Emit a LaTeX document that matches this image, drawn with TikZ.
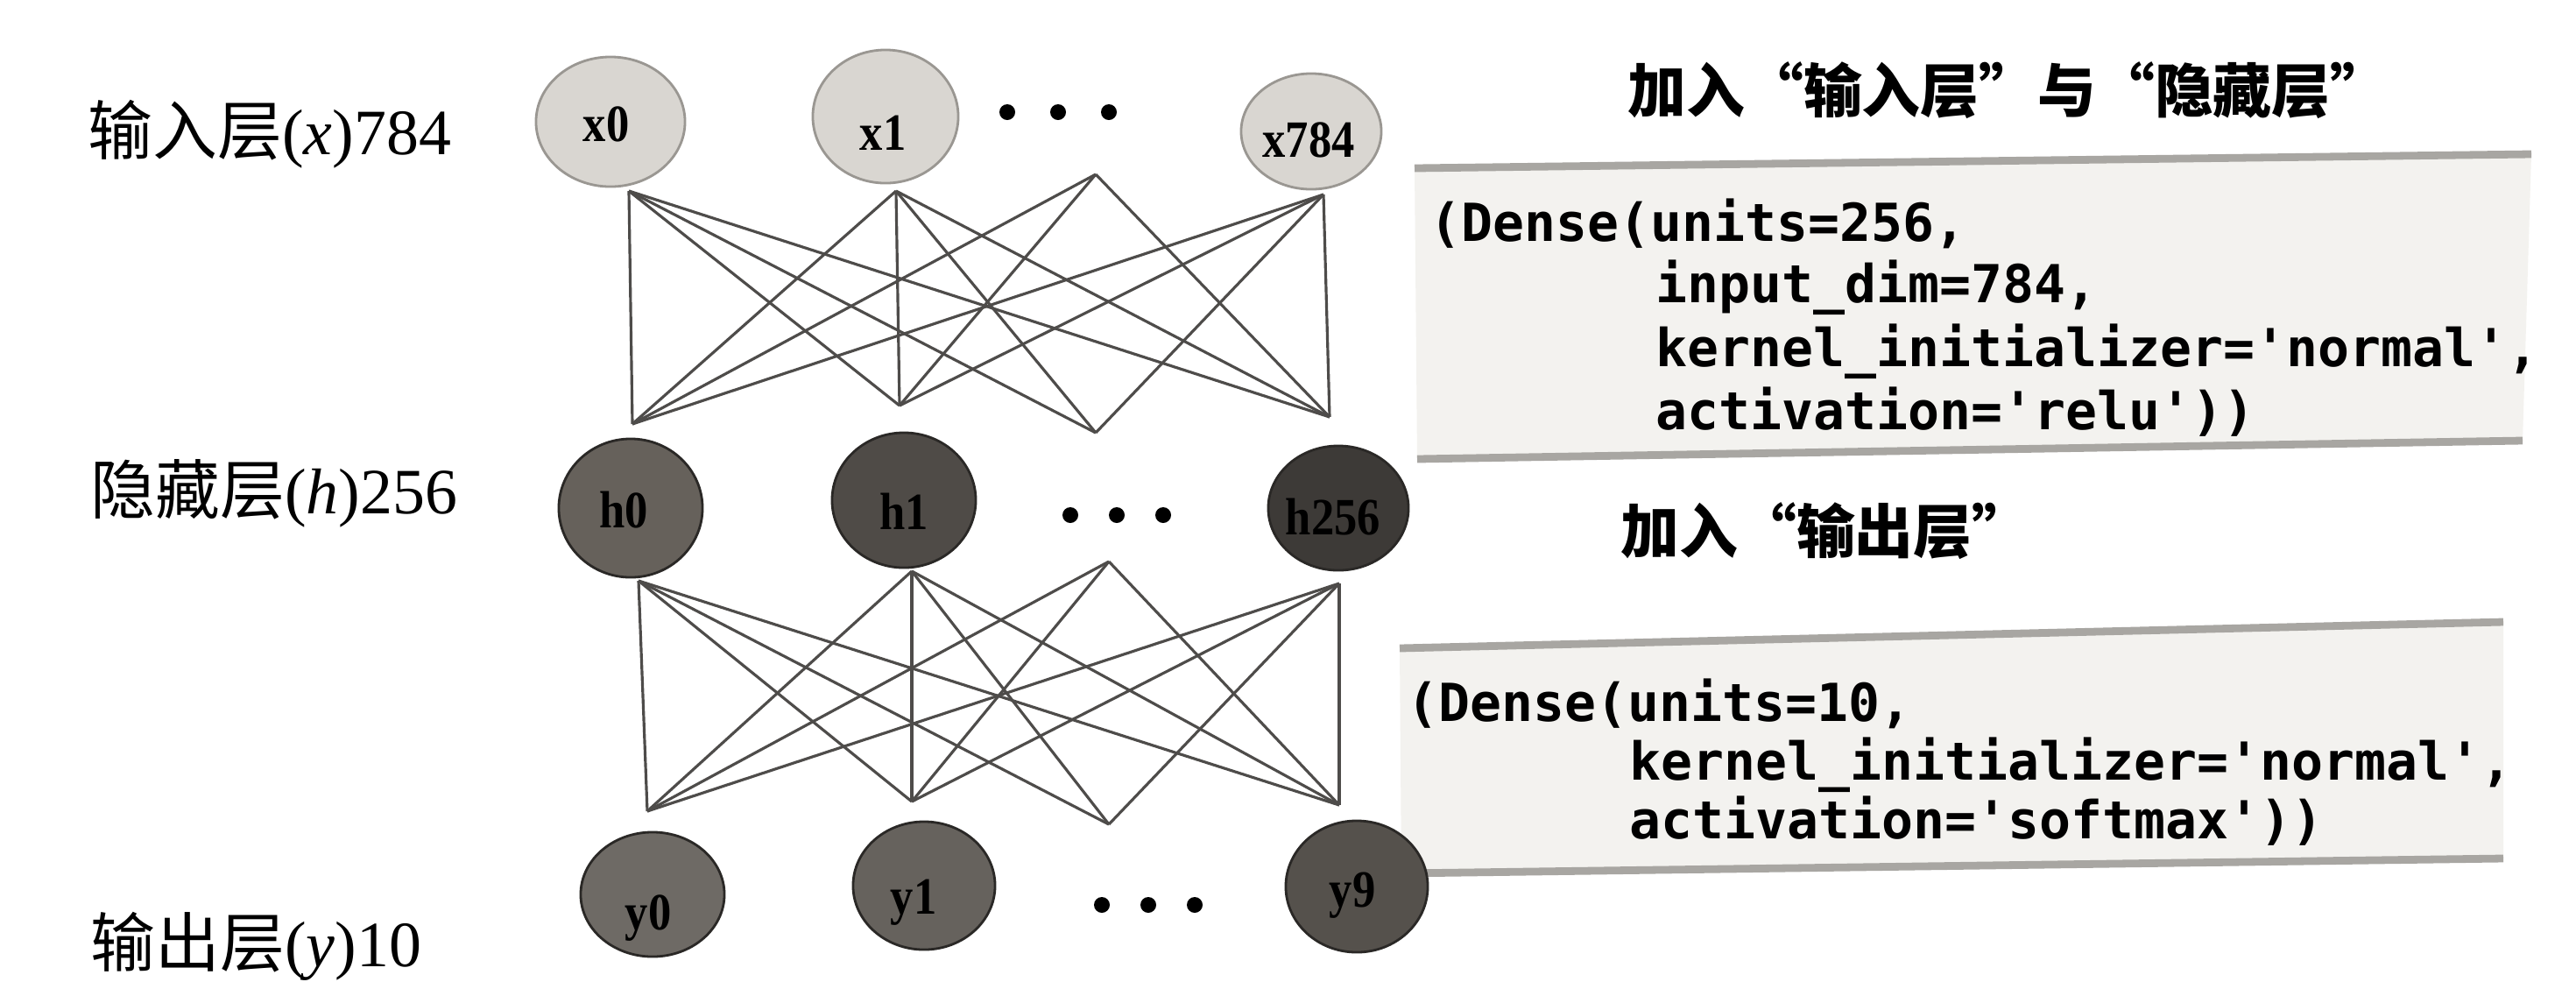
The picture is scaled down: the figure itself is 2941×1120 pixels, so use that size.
\documentclass[tikz,border=0pt]{standalone}
\usepackage{fontspec}
\setmainfont{Liberation Serif}
\newfontfamily\cjk{Noto Sans CJK SC}
\newfontfamily\codefont{DejaVu Sans Mono}
\usetikzlibrary{shapes.geometric}
\definecolor{inpfill}{HTML}{D9D6D1}
\definecolor{inpedge}{HTML}{9A9792}
\definecolor{hidA}{HTML}{66615B}
\definecolor{hidB}{HTML}{4F4B47}
\definecolor{hidC}{HTML}{3D3A37}
\definecolor{outA}{HTML}{6E6A65}
\definecolor{outB}{HTML}{66625D}
\definecolor{outC}{HTML}{55514C}
\definecolor{darkedge}{HTML}{2A2826}
\definecolor{linec}{HTML}{4E4C4A}
\definecolor{boxfill}{HTML}{F3F2EF}
\definecolor{boxedge}{HTML}{A8A6A2}
\newcommand{\nl}[1]{\scalebox{0.88}[1]{#1}}
\begin{document}
\begin{tikzpicture}[x=0.01cm,y=-0.01cm,
  neuron/.style={ellipse, inner sep=0pt, line width=0.8pt},
  inpn/.style={neuron, draw=inpedge, fill=inpfill},
  hidn/.style={neuron, draw=darkedge},
  nlabel/.style={inner sep=0pt, font=\fontsize{17}{17}\selectfont\bfseries},
  dotn/.style={circle, fill=black, inner sep=0pt, minimum size=0.18cm},
  conn/.style={draw=linec, line width=0.9pt},
  layerlab/.style={anchor=west, inner sep=0pt, font=\fontsize{21}{21}\selectfont},
  title/.style={anchor=west, inner sep=0pt, font=\cjk\bfseries\fontsize{19}{19}\selectfont},
  codeline/.style={anchor=base west, inner sep=0pt, font=\codefont\bfseries\fontsize{17}{17}\selectfont},
  boxline/.style={draw=boxedge, line width=2.5pt}
]
\useasboundingbox[fill=white] (0,0) rectangle (2941,1120);

% code strips
\fill[boxfill] (1615,192) -- (2890,176) -- (2880,503) -- (1618,524) -- cycle;
\draw[boxline] (1615,192) -- (2890,176);
\draw[boxline] (1618,524) -- (2880,503);
\fill[boxfill] (1598,740) -- (2858,710) -- (2858,980) -- (1600,997) -- cycle;
\draw[boxline] (1598,740) -- (2858,710);
\draw[boxline] (1600,997) -- (2858,980);

% layer labels
\node[layerlab] (Lin)  at (100,153)  {{\cjk 输入层}(\textit{x})784};
\node[layerlab] (Lhid) at (103,563)  {{\cjk 隐藏层}(\textit{h})256};
\node[layerlab] (Lout) at (103,1080) {{\cjk 输出层}(\textit{y})10};

% titles
\node[title] (T1) at (1858,103) {加入“输入层”与“隐藏层”};
\node[title] (T2) at (1850,606) {加入“输出层”};

% code
\node[codeline] (c1a) at (1632,275) {(Dense(units=256,};
\node[codeline] (c1b) at (1890,345) {input\_dim=784,};
\node[codeline] (c1c) at (1890,418) {kernel\_initializer=\textquotesingle{}normal\textquotesingle,};
\node[codeline] (c1d) at (1890,490) {activation=\textquotesingle{}relu\textquotesingle))};
\node[codeline] (c2a) at (1606,823) {(Dense(units=10,};
\node[codeline] (c2b) at (1860,890) {kernel\_initializer=\textquotesingle{}normal\textquotesingle,};
\node[codeline] (c2c) at (1860,957) {activation=\textquotesingle{}softmax\textquotesingle))};

% connector end points
\coordinate (a0) at (718,218);
\coordinate (a1) at (1023,218);
\coordinate (a2) at (1251,199);
\coordinate (a3) at (1511,222);
\coordinate (b0) at (722,484);
\coordinate (b1) at (1027,463);
\coordinate (b2) at (1251,494);
\coordinate (b3) at (1518,476);
\coordinate (p0) at (729,663);
\coordinate (p1) at (1041,652);
\coordinate (p2) at (1266,641);
\coordinate (p3) at (1529,666);
\coordinate (q0) at (739,926);
\coordinate (q1) at (1041,915);
\coordinate (q2) at (1266,941);
\coordinate (q3) at (1529,919);

\foreach \i in {a0,a1,a3}{\foreach \j in {b0,b1,b3}{\draw[conn] (\i) -- (\j);}}
\foreach \j in {b0,b1,b3}{\draw[conn] (a2) -- (\j);}
\foreach \i in {a0,a1,a3}{\draw[conn] (\i) -- (b2);}
\foreach \i in {p0,p1,p3}{\foreach \j in {q0,q1,q3}{\draw[conn] (\i) -- (\j);}}
\foreach \j in {q0,q1,q3}{\draw[conn] (p2) -- (\j);}
\foreach \i in {p0,p1,p3}{\draw[conn] (\i) -- (q2);}

% input layer
\node[inpn, minimum width=1.70cm, minimum height=1.48cm] (x0) at (697,139) {};
\node[inpn, minimum width=1.66cm, minimum height=1.52cm] (x1) at (1011,133) {};
\node[inpn, minimum width=1.60cm, minimum height=1.32cm] (x784) at (1497,150) {};
\node[nlabel] (x0t) at (692,142) {\nl{x0}};
\node[nlabel] (x1t) at (1008,152) {\nl{x1}};
\node[nlabel] (x784t) at (1494,160) {\nl{x784}};
\node[dotn] (dx1) at (1150,128) {};
\node[dotn] (dx2) at (1208,128) {};
\node[dotn] (dx3) at (1266,128) {};

% hidden layer
\node[hidn, fill=hidA, minimum width=1.64cm, minimum height=1.58cm] (h0) at (720,580) {};
\node[hidn, fill=hidB, minimum width=1.64cm, minimum height=1.54cm] (h1) at (1032,571) {};
\node[hidn, fill=hidC, minimum width=1.60cm, minimum height=1.42cm] (h256) at (1528,580) {};
\node[nlabel] (h0t) at (712,582) {\nl{h0}};
\node[nlabel] (h1t) at (1032,584) {\nl{h1}};
\node[nlabel] (h256t) at (1522,590) {\nl{h256}};
\node[dotn] (dh1) at (1222,588) {};
\node[dotn] (dh2) at (1275,588) {};
\node[dotn] (dh3) at (1328,588) {};

% output layer
\node[hidn, fill=outA, minimum width=1.64cm, minimum height=1.42cm] (y0) at (745,1021) {};
\node[hidn, fill=outB, minimum width=1.62cm, minimum height=1.46cm] (y1) at (1055,1011) {};
\node[hidn, fill=outC, minimum width=1.62cm, minimum height=1.50cm] (y9) at (1549,1012) {};
\node[nlabel] (y0t) at (740,1048) {\nl{y0}};
\node[nlabel] (y1t) at (1043,1030) {\nl{y1}};
\node[nlabel] (y9t) at (1544,1022) {\nl{y9}};
\node[dotn] (dy1) at (1258,1033) {};
\node[dotn] (dy2) at (1311,1033) {};
\node[dotn] (dy3) at (1364,1033) {};
\end{tikzpicture}
\end{document}
